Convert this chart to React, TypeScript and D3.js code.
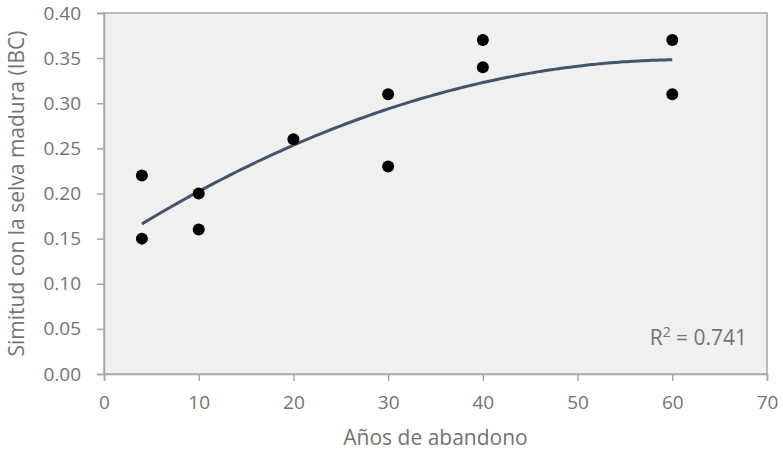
import React, { useRef, useEffect } from 'react';
import * as d3 from 'd3';

const years = [4, 4, 10, 10, 20, 30, 30, 40, 40, 60, 60];
const similarity = [0.22, 0.15, 0.2, 0.16, 0.26, 0.31, 0.23, 0.37, 0.34, 0.37, 0.31];
const xTicks = [0, 10, 20, 30, 40, 50, 60, 70];
const yTicks = [0, 0.05, 0.1, 0.15, 0.2, 0.25, 0.3, 0.35, 0.4];
const r2Label = '0.741';

// quadratic least squares fit (Excel poly trendline, order 2)
function quadFit(xs: number[], ys: number[]) {
  const n = xs.length;
  let s = [0, 0, 0, 0, 0];
  let t = [0, 0, 0];
  for (let i = 0; i < n; i++) {
    for (let k = 0; k < 5; k++) s[k] += Math.pow(xs[i], k);
    for (let k = 0; k < 3; k++) t[k] += ys[i] * Math.pow(xs[i], k);
  }
  const A = [
    [s[0], s[1], s[2], t[0]],
    [s[1], s[2], s[3], t[1]],
    [s[2], s[3], s[4], t[2]],
  ];
  for (let i = 0; i < 3; i++) {
    for (let j = i + 1; j < 3; j++) {
      const f = A[j][i] / A[i][i];
      for (let k = i; k < 4; k++) A[j][k] -= f * A[i][k];
    }
  }
  const c = [0, 0, 0];
  for (let i = 2; i >= 0; i--) {
    let v = A[i][3];
    for (let k = i + 1; k < 3; k++) v -= A[i][k] * c[k];
    c[i] = v / A[i][i];
  }
  return (x: number) => c[0] + c[1] * x + c[2] * x * x;
}

const Chart = () => {
  const ref = useRef<HTMLDivElement>(null);

  useEffect(() => {
    d3.select(ref.current).selectAll('*').remove();
    const width = 783;
    const height = 454;
    const margin = { top: 13, right: 16, bottom: 80, left: 104 };
    const font = 'Open Sans, Noto Sans, sans-serif';
    const grey = '#737373';

    const svg = d3.select(ref.current)
      .append('svg')
      .attr('width', width)
      .attr('height', height)
      .style('display', 'block')
      .style('background', '#fff');

    const x = d3.scaleLinear().domain([0, 70]).range([margin.left, width - margin.right]);
    const y = d3.scaleLinear().domain([0, 0.4]).range([height - margin.bottom, margin.top]);

    svg.append('rect')
      .attr('x', x(0))
      .attr('y', y(0.4))
      .attr('width', x(70) - x(0))
      .attr('height', y(0) - y(0.4))
      .attr('fill', '#f0f0f0')
      .attr('stroke', '#a6a6a6')
      .attr('stroke-width', 1.5);

    const xAxis = svg.append('g')
      .attr('transform', `translate(0,${y(0)})`)
      .call(d3.axisBottom(x).tickValues(xTicks).tickSize(7).tickPadding(15).tickFormat(d3.format('d')));
    const yAxis = svg.append('g')
      .attr('transform', `translate(${x(0)},0)`)
      .call(d3.axisLeft(y).tickValues(yTicks).tickSize(7).tickPadding(16).tickFormat(d3.format('.2f')));

    [xAxis, yAxis].forEach(g => {
      g.select('.domain').attr('stroke', '#a6a6a6').attr('stroke-width', 1.5);
      g.selectAll('.tick line').attr('stroke', '#a6a6a6').attr('stroke-width', 1.5);
      g.selectAll('.tick text')
        .attr('fill', grey)
        .style('font-family', font)
        .style('font-size', '19px');
    });

    const fit = quadFit(years, similarity);
    const xs = d3.range(4, 60.01, 0.5);
    svg.append('path')
      .datum(xs)
      .attr('fill', 'none')
      .attr('stroke', '#44546a')
      .attr('stroke-width', 3)
      .attr('d', d3.line<number>().x(d => x(d)).y(d => y(fit(d))).curve(d3.curveMonotoneX));

    svg.append('g')
      .selectAll('circle')
      .data(years.map((d, i) => ({ x: d, y: similarity[i] })))
      .join('circle')
      .attr('cx', d => x(d.x))
      .attr('cy', d => y(d.y))
      .attr('r', 6)
      .attr('fill', '#000');

    const r2 = svg.append('text')
      .attr('x', x(67.9))
      .attr('y', y(0.032))
      .attr('text-anchor', 'end')
      .attr('fill', grey)
      .style('font-family', font)
      .style('font-size', '21px');
    r2.append('tspan').text('R');
    r2.append('tspan').attr('dy', -8).style('font-size', '14px').text('2');
    r2.append('tspan').attr('dy', 8).text(` = ${r2Label}`);

    svg.append('text')
      .attr('x', (x(0) + x(70)) / 2)
      .attr('y', 445)
      .attr('text-anchor', 'middle')
      .attr('fill', grey)
      .style('font-family', font)
      .style('font-size', '21px')
      .text('Años de abandono');

    svg.append('text')
      .attr('transform', `translate(24,${(y(0) + y(0.4)) / 2}) rotate(-90)`)
      .attr('text-anchor', 'middle')
      .attr('fill', grey)
      .style('font-family', font)
      .style('font-size', '21px')
      .text('Simitud con la selva madura (IBC)');
  }, []);

  return <div ref={ref} style={{ position: 'fixed', left: 0, top: 0 }} />;
};

export default function App() {
  return <Chart />;
}
